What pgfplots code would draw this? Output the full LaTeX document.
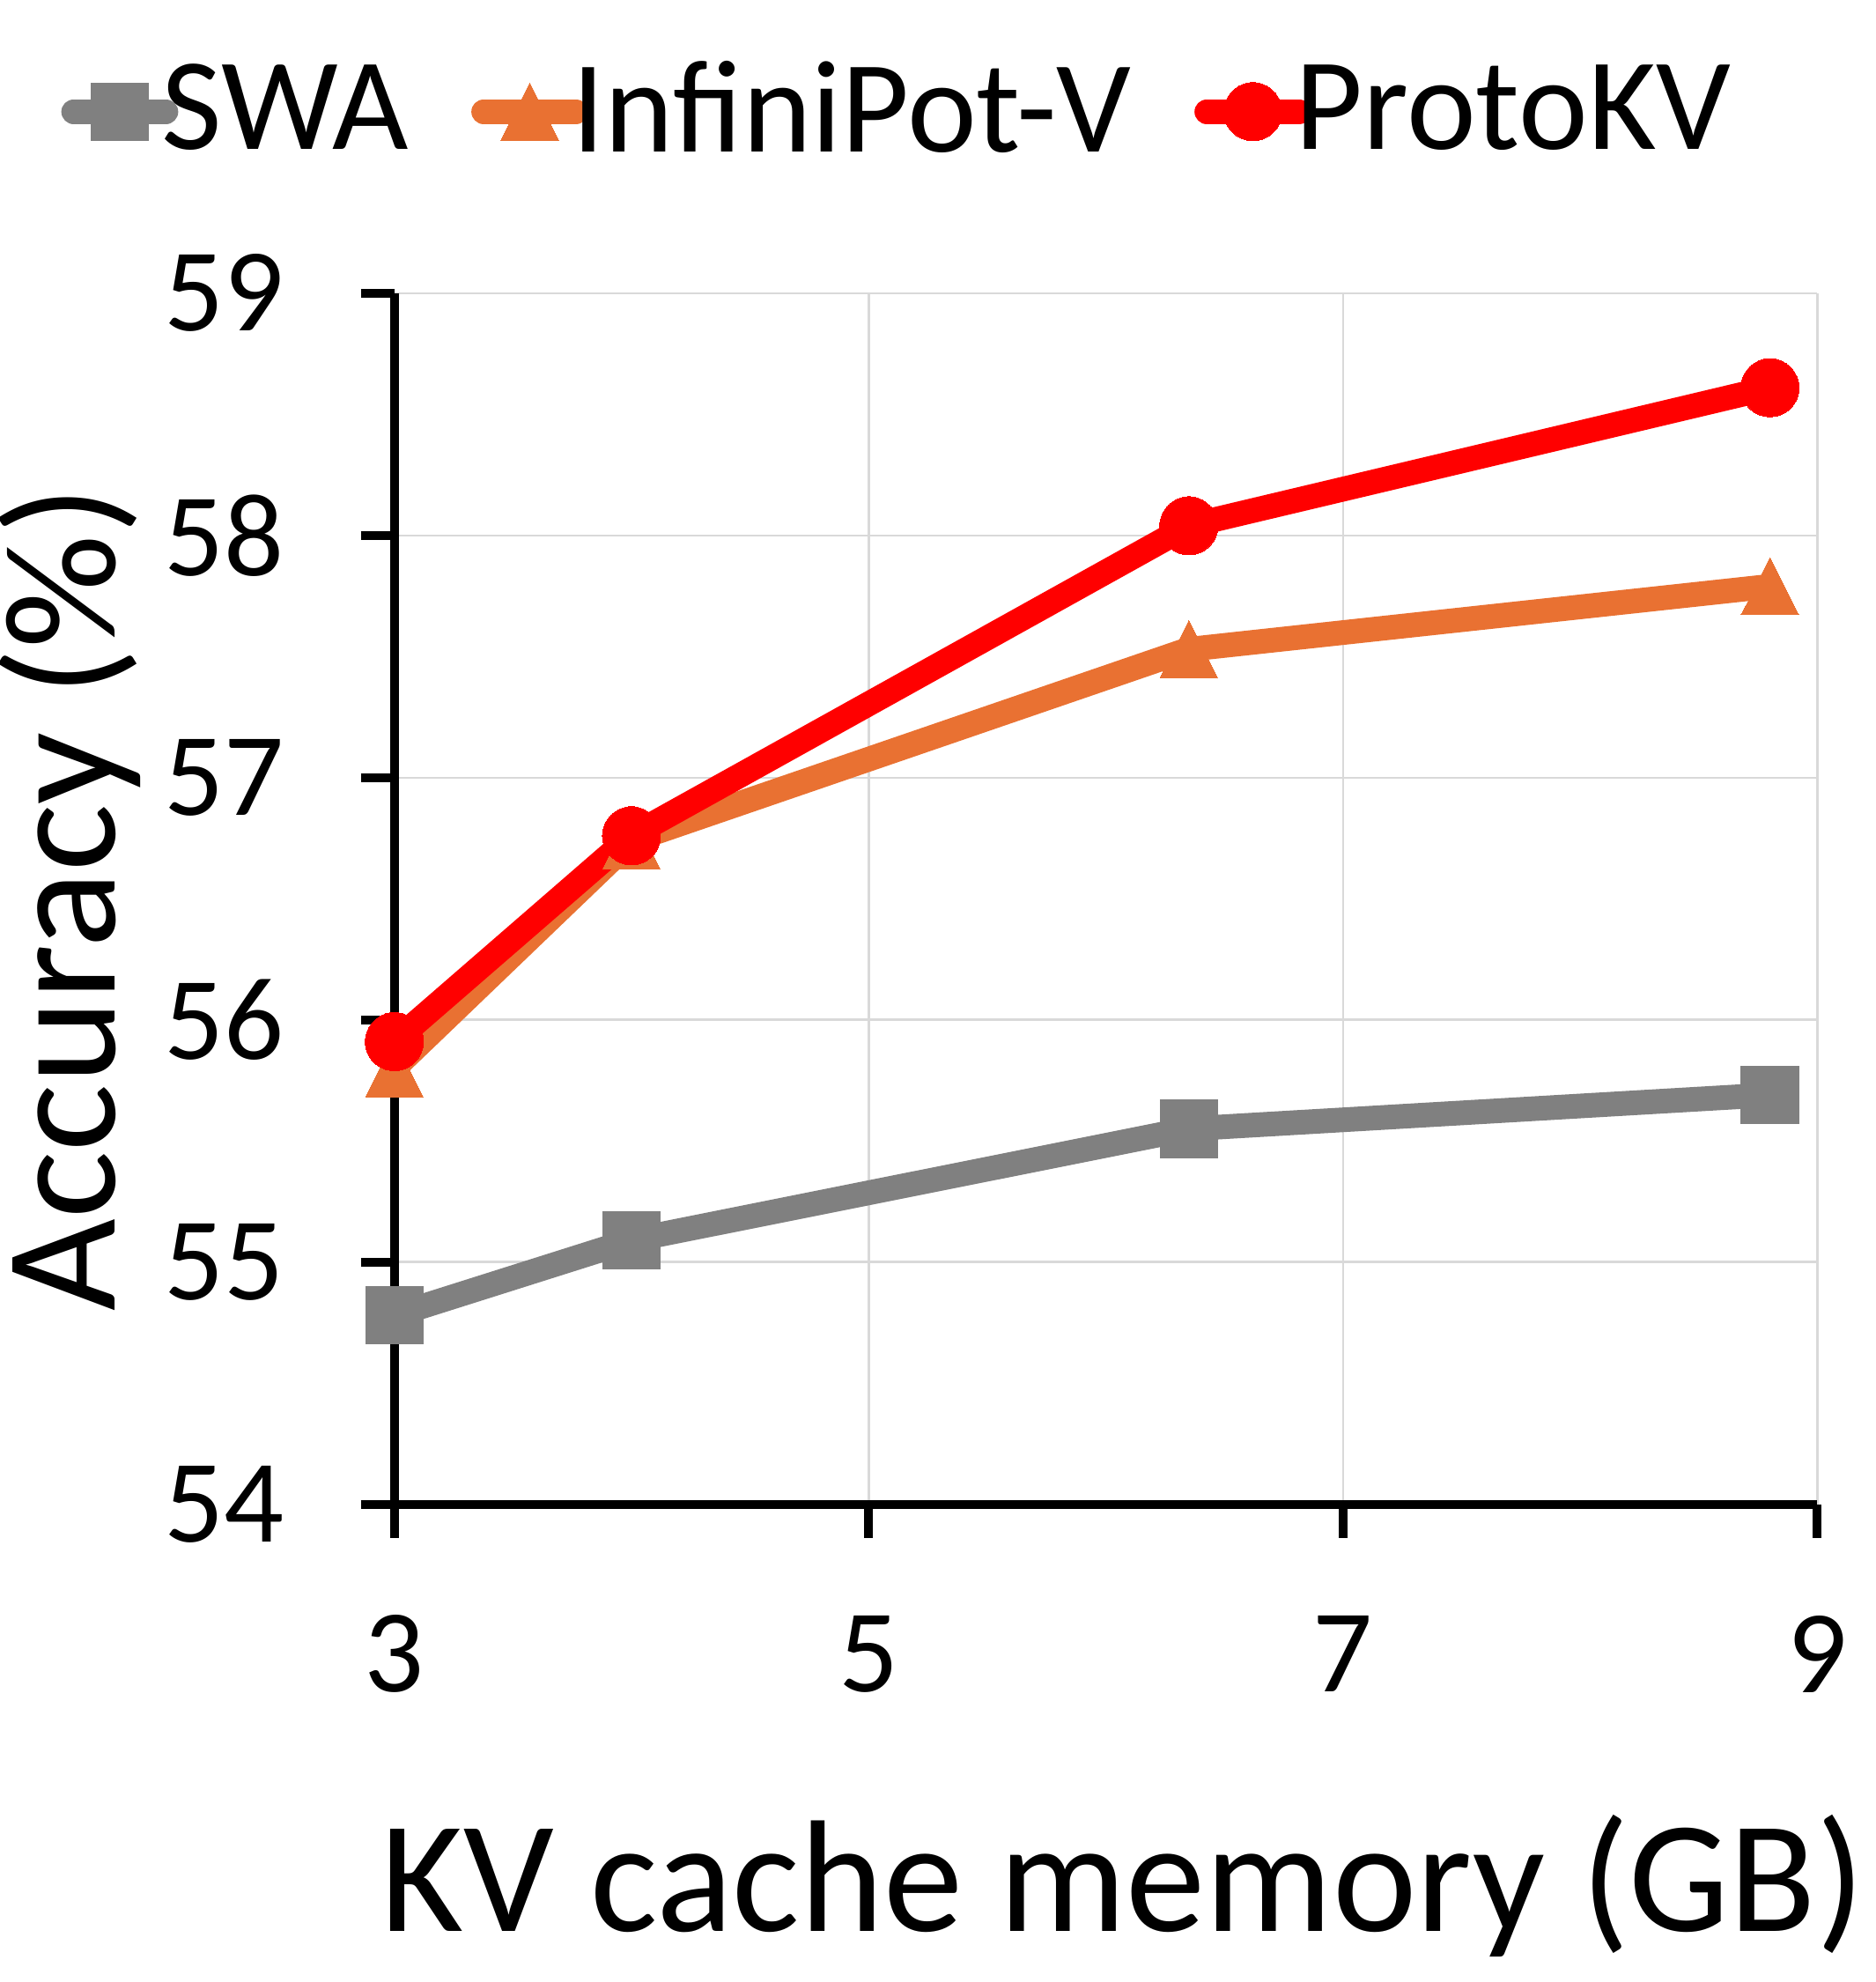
\documentclass[border=0pt]{standalone}
\usepackage{pgfplots}
\pgfplotsset{compat=1.18}
\usepackage{fontspec}
\setmainfont{Carlito}
\definecolor{swagray}{HTML}{808080}
\definecolor{iporange}{HTML}{E97132}
\definecolor{pkred}{HTML}{FF0000}
\definecolor{gridgray}{HTML}{D9D9D9}
\begin{document}
\begin{tikzpicture}
\useasboundingbox (-62.4bp,-75.6bp) rectangle (234.4bp,238bp);
\begin{axis}[
  at={(0,0)}, anchor=south west,
  scale only axis, width=225.2bp, height=191.6bp,
  xmin=3, xmax=9, ymin=54, ymax=59,
  xtick={3,5,7,9}, ytick={54,55,56,57,58,59},
  axis lines*=left,
  axis line style={line width=1.4bp, black},
  tick align=outside,
  major tick length=5.3bp,
  tick style={line width=1.4bp, black},
  grid=major,
  major grid style={line width=0.35bp, gridgray},
  clip=false,
  /pgf/number format/assume math mode=true,
  ticklabel style={font=\fontsize{18.7bp}{22bp}\selectfont},
  xticklabel style={anchor=center, yshift=-18.4bp},
  yticklabel style={anchor=east, xshift=-8.6bp},
  xlabel={KV cache memory (GB)},
  ylabel={Accuracy (\%)},
  label style={font=\fontsize{25.2bp}{30bp}\selectfont},
  xlabel style={at={(axis description cs:0.512,-0.315)}, anchor=center},
  ylabel style={at={(axis description cs:-0.228,0.5)}, anchor=center},
  legend columns=3,
  legend style={at={(axis description cs:0.357,1.150)}, anchor=center, draw=none, fill=none,
    font=\fontsize{20.8bp}{24bp}\selectfont,
    /tikz/every odd column/.append style={column sep=-4.6bp},
    /tikz/every even column/.append style={column sep=8bp}},
  legend image code/.code={\draw[mark repeat=2, mark phase=2, #1] plot coordinates {(0bp,0bp) (7.3bp,0bp) (14.6bp,0bp)};},
  every axis plot/.append style={line width=3.9bp, line cap=round, line join=round},
]
\addplot[color=swagray, mark=square*, mark size=4.55bp, mark options={line width=0pt, draw=none, fill=swagray}]
  coordinates {(3,54.78) (4,55.09) (6.35,55.55) (8.8,55.69)};
\addlegendentry{SWA}
\addplot[color=iporange, mark=triangle*, mark size=5.25bp, mark options={line width=0pt, draw=none, fill=iporange, yscale=1.15, yshift=-1.3bp}]
  coordinates {(3,55.80) (4,56.74) (6.35,57.53) (8.8,57.79)};
\addlegendentry{InfiniPot-V}
\addplot[color=pkred, mark=*, mark size=4.6bp, mark options={line width=0pt, draw=none, fill=pkred}]
  coordinates {(3,55.91) (4,56.76) (6.35,58.04) (8.8,58.61)};
\addlegendentry{ProtoKV}
\end{axis}
\end{tikzpicture}
\end{document}
